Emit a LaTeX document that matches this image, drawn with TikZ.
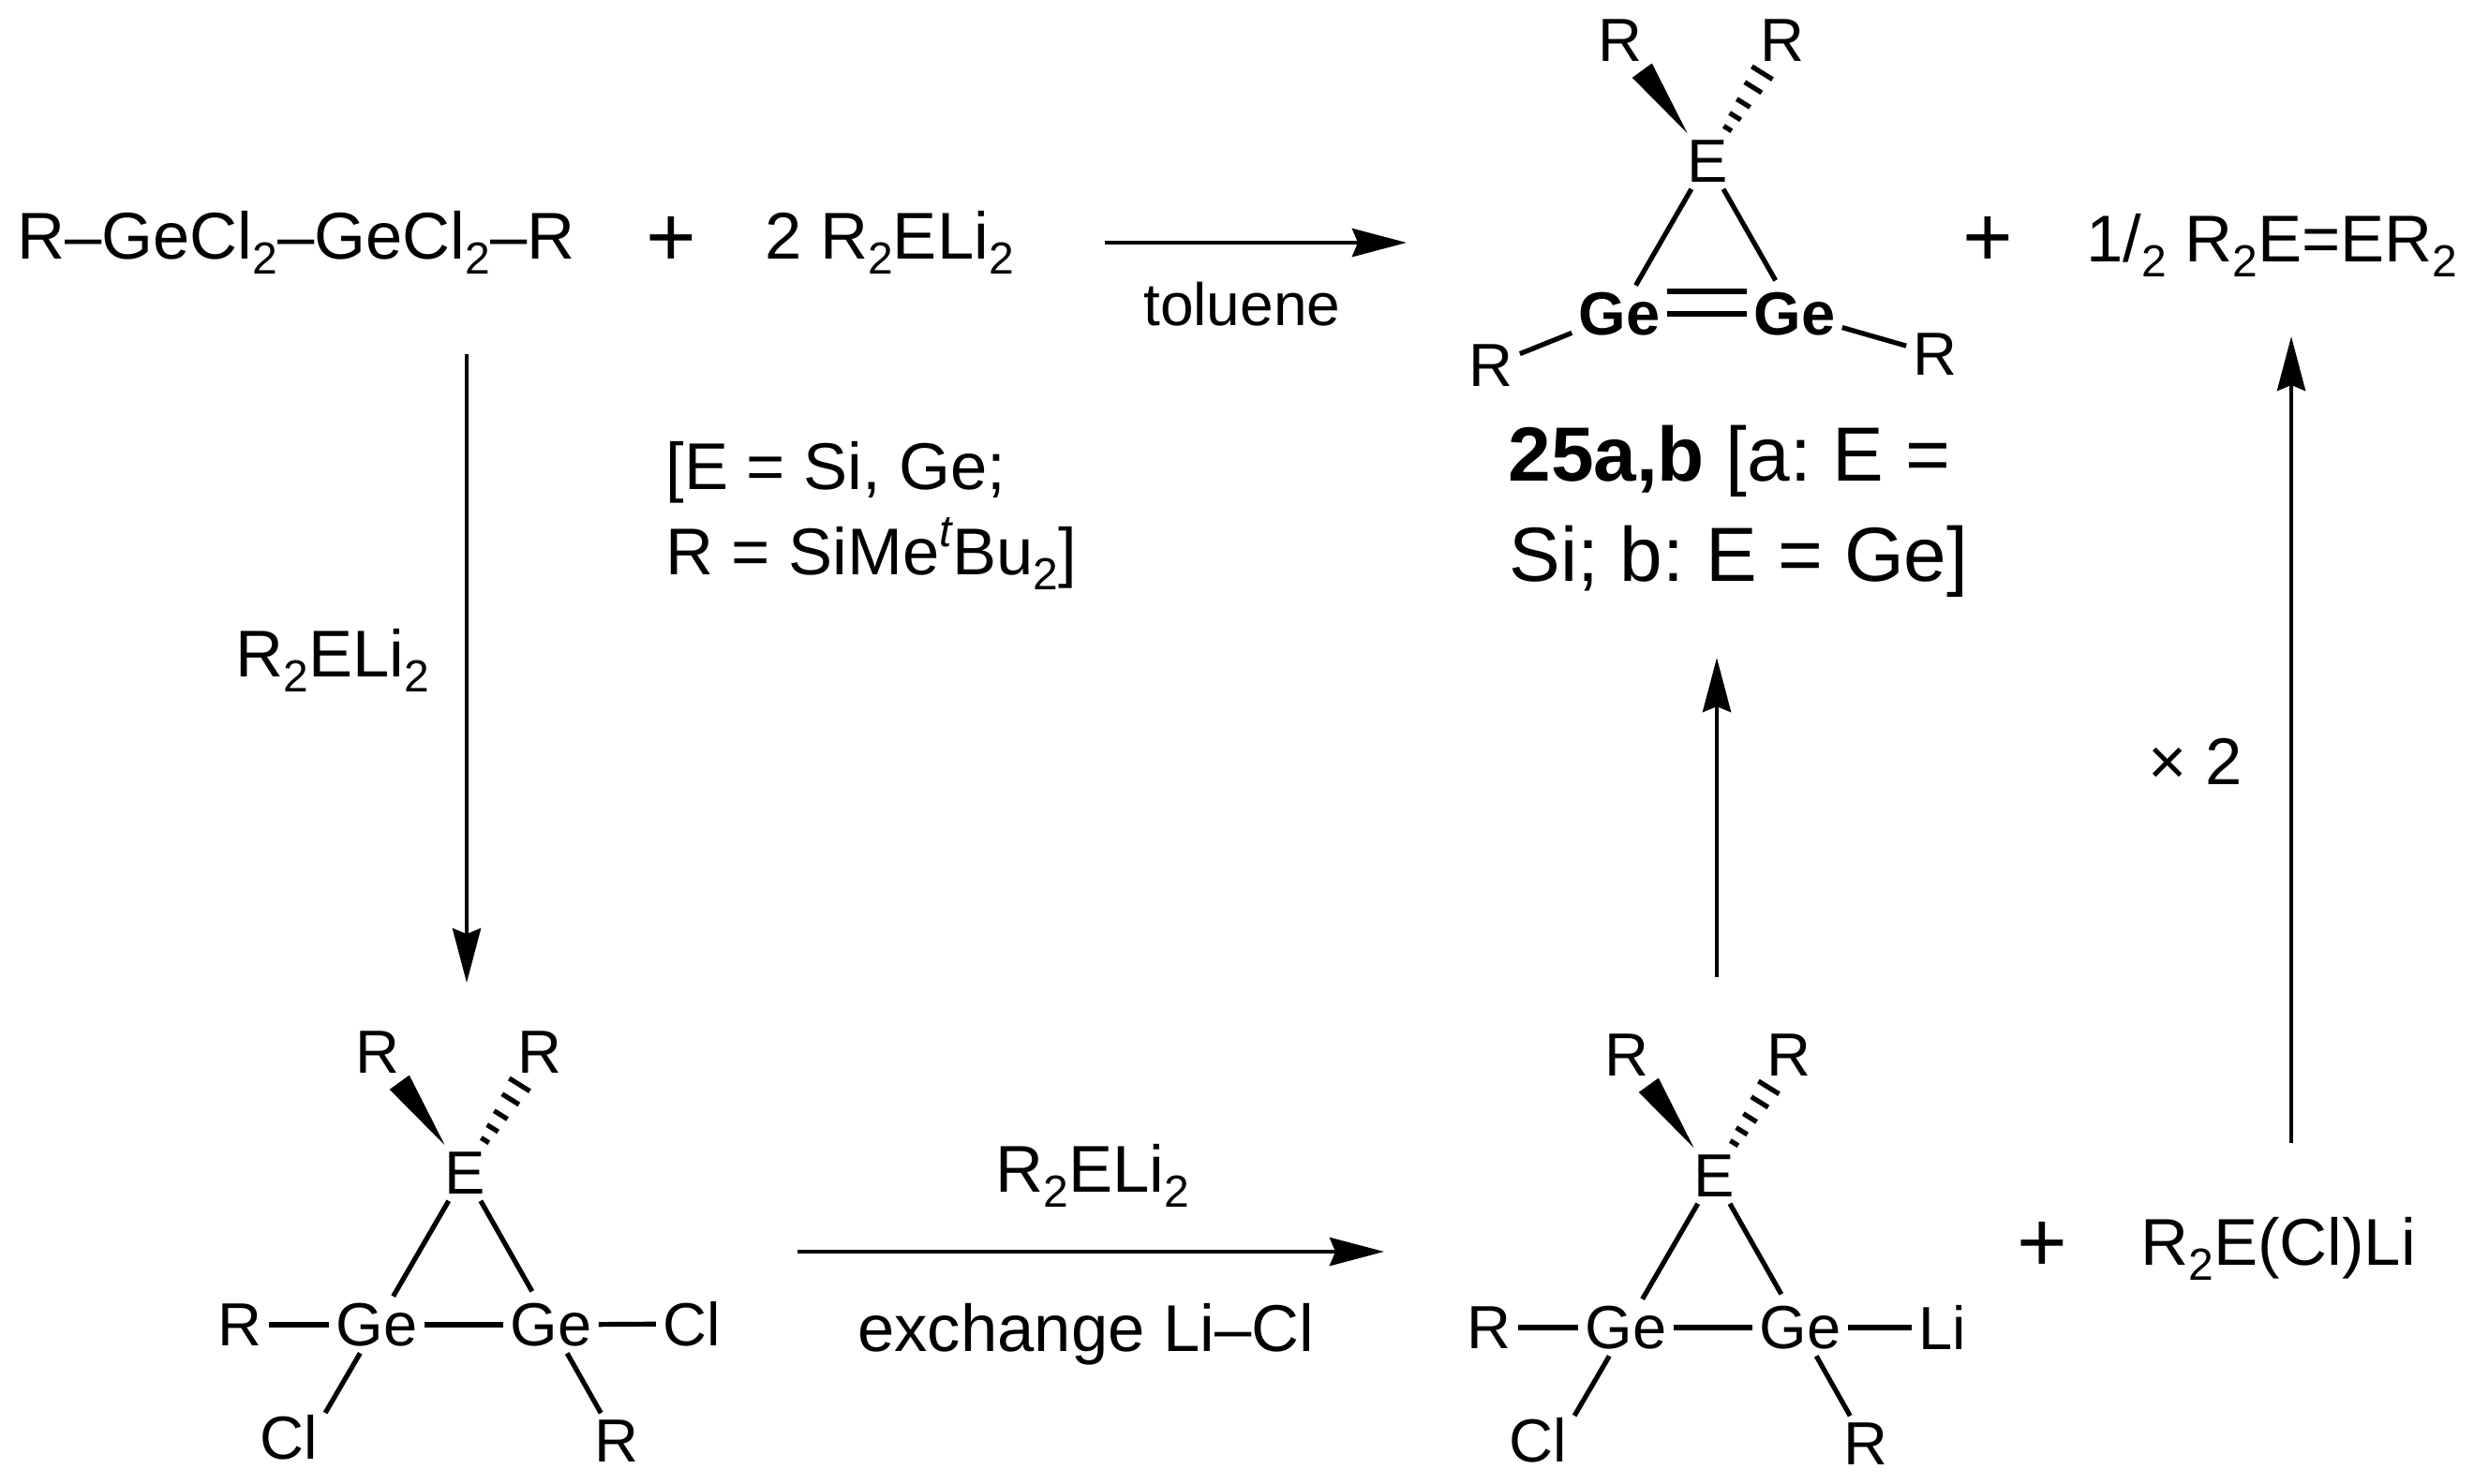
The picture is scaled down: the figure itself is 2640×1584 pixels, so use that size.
\documentclass[tikz,border=0pt]{standalone}
\usepackage{fontspec}
\setmainfont{Liberation Sans}
\usetikzlibrary{arrows.meta,calc}
\frenchspacing
\newcommand{\lotwo}{\raisebox{-.23em}{\scalebox{.68}{2}}}
\newcommand{\wedgebond}[2]{\fill ($(#1)!.23!(#2)$) -- ($($(#1)!.75!(#2)$)!6.5pt!90:(#2)$) -- ($($(#1)!.75!(#2)$)!6.5pt!-90:(#2)$) -- cycle;}
\newcommand{\hashbond}[2]{\foreach \t/\w in {.27/2.5pt,.37/3.5pt,.48/4.2pt,.61/5.3pt,.73/6.5pt}
  \draw[line width=2.6pt] ($($(#1)!\t!(#2)$)!\w!90:(#2)$) -- ($($(#1)!\t!(#2)$)!\w!-90:(#2)$);}
\tikzset{
  atom/.style = {inner sep=3.5pt, font=\fontsize{32.5}{32.5}\selectfont},
  boldatom/.style = {atom, font=\fontsize{32.5}{32.5}\selectfont\bfseries},
  plussign/.style = {inner sep=0pt, font=\fontsize{46}{46}\selectfont},
  label/.style = {inner sep=0pt, anchor=base west, font=\fontsize{35.3}{35.3}\selectfont},
  biglabel/.style = {inner sep=0pt, anchor=base west, font=\fontsize{41}{41}\selectfont},
  bond/.style = {line width=2.6pt},
  rxn/.style = {line width=2.4pt, -{Stealth[length=29pt,width=15pt,inset=3pt]}}
}
\begin{document}
\begin{tikzpicture}[x=0.5pt, y=-0.5pt]
  \useasboundingbox (0,0) rectangle (2640,1584);
  % top row
  \node[label] (start) at (18,276) {R–GeCl\lotwo–GeCl\lotwo–R};
  \node[plussign] (plusa) at (716,258) {+};
  \node[label] (reagent) at (816,276) {2 R\lotwo ELi\lotwo};
  \node[label, font=\fontsize{32}{32}\selectfont] (toluene) at (1220,347) {toluene};
  \node[plussign] (plusb) at (2121,258) {+};
  \node[label] (dimer) at (2226,279) {1/\lotwo{} R\lotwo E=ER\lotwo};
  % product 25
  \node[atom] (Ea) at (1822,172) {E};
  \node[atom] (Ra) at (1729,43) {R};
  \node[atom] (Rb) at (1902,43) {R};
  \node[boldatom] (Gea) at (1728,335) {Ge};
  \node[boldatom] (Geb) at (1915,335) {Ge};
  \node[atom] (Rc) at (1591,390) {R};
  \node[atom] (Rd) at (2065,378) {R};
  \wedgebond{Ea}{Ra}
  \hashbond{Ea}{Rb}
  \draw[bond] (Ea) -- (Gea);
  \draw[bond, shorten >=3pt] (Ea) -- (Geb);
  \draw[bond] (Gea) -- (Geb);
  \draw[bond] ([yshift=12pt]Gea.east) -- ([yshift=12pt]Geb.west);
  \draw[bond] (Gea) -- (Rc);
  \draw[bond] (Geb) -- (Rd);
  \node[biglabel] (name) at (1609,513) {\textbf{25a,b} [a: E =};
  \node[biglabel] (nameb) at (1610,620) {Si; b: E = Ge]};
  % conditions
  \node[label] (conda) at (710,522) {[E = Si, Ge;};
  \node[label] (condb) at (710,613) {R = SiMe\raisebox{.42em}{\scalebox{.68}{\itshape t}}Bu\lotwo]};
  \node[label] (reagentb) at (251,722) {R\lotwo ELi\lotwo};
  \node[label] (reagentc) at (1062,1272) {R\lotwo ELi\lotwo};
  \node[label] (exch) at (915,1442) {exchange Li–Cl};
  \node[label] (times) at (2292,837) {× 2};
  % lower left
  \node[atom] (Ec) at (496,1252) {E};
  \node[atom] (Re) at (403,1123) {R};
  \node[atom] (Rf) at (576,1123) {R};
  \node[atom] (Gec) at (402,1414) {Ge};
  \node[atom] (Ged) at (588,1414) {Ge};
  \node[atom] (Rg) at (256,1414) {R};
  \node[atom] (Cla) at (738,1413) {Cl};
  \node[atom] (Clb) at (308,1534) {Cl};
  \node[atom] (Rh) at (658,1538) {R};
  \wedgebond{Ec}{Re}
  \hashbond{Ec}{Rf}
  \draw[bond] (Ec) -- (Gec);
  \draw[bond, shorten >=3pt] (Ec) -- (Ged);
  \draw[bond] (Gec) -- (Ged);
  \draw[bond] (Rg) -- (Gec);
  \draw[bond] (Ged) -- (Cla);
  \draw[bond, shorten >=15pt] (Gec) -- ([xshift=12pt]Clb.center);
  \draw[bond] (Ged) -- (Rh);
  % lower right
  \node[atom] (Ee) at (1829,1255) {E};
  \node[atom] (Ri) at (1736,1126) {R};
  \node[atom] (Rj) at (1909,1126) {R};
  \node[atom] (Gee) at (1735,1417) {Ge};
  \node[atom] (Gef) at (1921,1417) {Ge};
  \node[atom] (Rk) at (1589,1417) {R};
  \node[atom] (Li) at (2073,1417) {Li};
  \node[atom] (Clc) at (1641,1537) {Cl};
  \node[atom] (Rl) at (1991,1541) {R};
  \wedgebond{Ee}{Ri}
  \hashbond{Ee}{Rj}
  \draw[bond] (Ee) -- (Gee);
  \draw[bond, shorten >=3pt] (Ee) -- (Gef);
  \draw[bond] (Gee) -- (Gef);
  \draw[bond] (Rk) -- (Gee);
  \draw[bond] (Gef) -- (Li);
  \draw[bond, shorten >=15pt] (Gee) -- ([xshift=12pt]Clc.center);
  \draw[bond] (Gef) -- (Rl);
  \node[plussign] (plusc) at (2179,1331) {+};
  \node[label] (side) at (2284,1350) {R\lotwo E(Cl)Li};
  % arrows
  \coordinate (ta) at (1179,259);
  \coordinate (tb) at (1501,259);
  \coordinate (da) at (498,378);
  \coordinate (db) at (498,1049);
  \coordinate (ba) at (851,1336);
  \coordinate (bb) at (1477,1336);
  \coordinate (ua) at (1832,1043);
  \coordinate (ub) at (1832,702);
  \coordinate (va) at (2445,1220);
  \coordinate (vb) at (2445,359);
  \draw[rxn] (ta) -- (tb);
  \draw[rxn] (da) -- (db);
  \draw[rxn] (ba) -- (bb);
  \draw[rxn] (ua) -- (ub);
  \draw[rxn] (va) -- (vb);
\end{tikzpicture}
\end{document}
